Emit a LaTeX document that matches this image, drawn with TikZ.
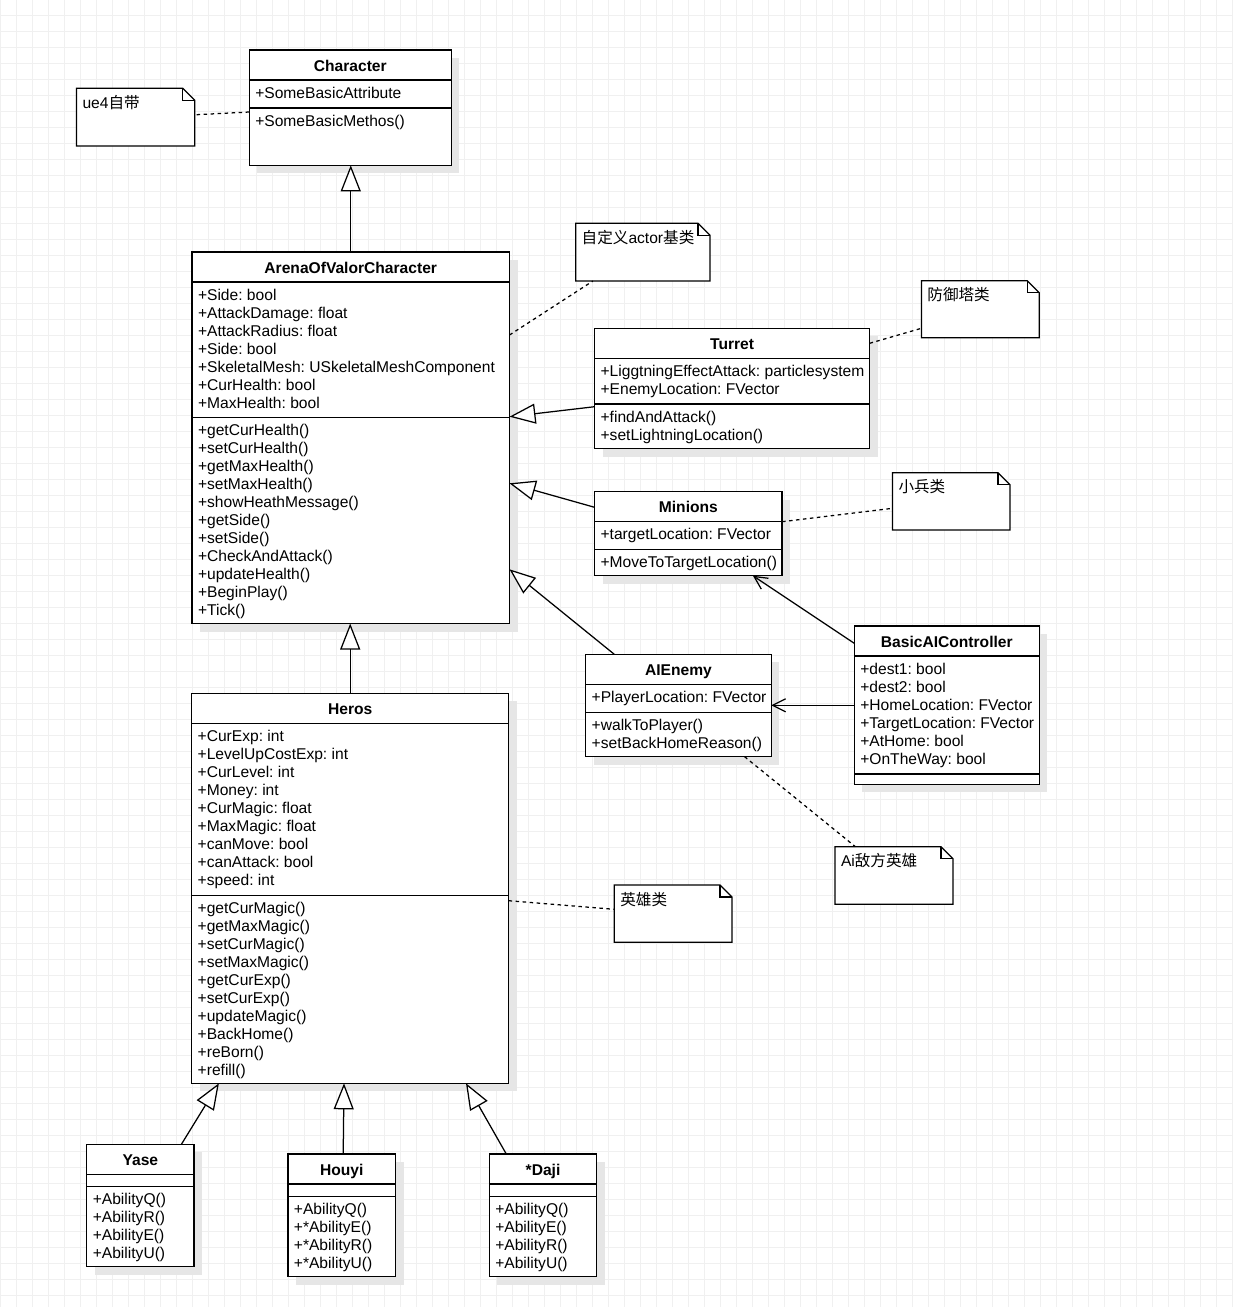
\documentclass[tikz,border=0pt]{standalone}
\usepackage{fontspec}
\setmainfont{Liberation Sans}
\newfontfamily\cjk{Noto Sans CJK SC}
\usetikzlibrary{arrows.meta,shadows}
\frenchspacing
\definecolor{gridc}{HTML}{F0F0F0}
\definecolor{shadc}{HTML}{E6E6E6}
\tikzset{
  cls/.style={draw, fill=white, line width=1.25pt, outer sep=0pt, inner sep=0pt,
    drop shadow={shadow xshift=8pt, shadow yshift=-8pt, fill=shadc, opacity=1}},
  clsline/.style={line width=1.25pt},
  ttl/.style={anchor=base, inner sep=0pt, outer sep=0pt, font=\fontsize{15.6}{18}\selectfont\bfseries},
  txt/.style={anchor=base west, inner sep=0pt, outer sep=0pt, font=\fontsize{15.6}{18}\selectfont\frenchspacing},
  notebase/.style={anchor=north west, inner sep=0pt, outer sep=0pt},
  noteline/.style={line width=1.25pt},
  gridl/.style={gridc, line width=1pt},
  inh/.style={line width=1.25pt, -{Triangle[length=26pt,width=20pt,fill=white,line width=1.25pt]}},
  assoc/.style={line width=1.25pt, -{Straight Barb[length=13pt,width=13pt,line width=1.25pt]}},
  notelink/.style={line width=1.25pt, dash pattern=on 3.5pt off 3.5pt},
}
\newcommand\umlclass[9]{%
  \node[cls, minimum width={(#4-#2)*1pt}, minimum height={(#5-#3)*1pt}, anchor=north west] (#1) at (#2,#3) {};
  \draw[clsline] (#2,{#3+30}) -- (#4,{#3+30});
  \draw[clsline] (#2,#6) -- (#4,#6);
  \node[ttl] (#1t) at ({(#2+#4)/2},{#3+21}) {#7};
  \if\relax\detokenize{#8}\relax\else
    \foreach \ltxt [count=\li] in {#8}{\node[txt] (#1a\li) at ({#2+6},{#3+30+18*\li}) {\ltxt};}%
  \fi
  \if\relax\detokenize{#9}\relax\else
    \foreach \ltxt [count=\li] in {#9}{\node[txt] (#1m\li) at ({#2+6},{#6+18*\li}) {\ltxt};}%
  \fi
}
\newcommand\umlnote[6]{%
  \node[notebase, minimum width={(#4-#2)*1pt}, minimum height={(#5-#3)*1pt}] (#1) at (#2,#3) {};
  \draw[noteline, fill=white] (#1.north west) -- ([xshift=-12pt]#1.north east) -- ([yshift=-12pt]#1.north east) -- (#1.south east) -- (#1.south west) -- cycle;
  \draw[noteline] ([xshift=-12pt]#1.north east) -- ([xshift=-12pt,yshift=-12pt]#1.north east) -- ([yshift=-12pt]#1.north east);
  \node[txt] (#1t) at ({#2+6},{#3+20}) {#6};
}
\begin{document}
\begin{tikzpicture}[x=1pt,y=-1pt]
\useasboundingbox (0,0) rectangle (1233,1307);
\fill[white] (0,0) rectangle (1233,1307);
\foreach \k in {0,...,77} \draw[gridl] ({16*\k+0.5},0) -- ({16*\k+0.5},1307);
\foreach \k in {1,...,82} \draw[gridl] (0,{16*\k-1}) -- (1233,{16*\k-1});

% classes
\umlclass{char}{249.3}{50}{451.3}{165.3}{108}{Character}{+SomeBasicAttribute}{+SomeBasicMethos()}
\umlclass{arena}{192}{252}{509.5}{623.5}{417.7}{ArenaOfValorCharacter}%
  {+Side: bool,+AttackDamage: float,+AttackRadius: float,+Side: bool,+SkeletalMesh: USkeletalMeshComponent,+CurHealth: bool,+MaxHealth: bool}%
  {+getCurHealth(),+setCurHealth(),+getMaxHealth(),+setMaxHealth(),+showHeathMessage(),+getSide(),+setSide(),+CheckAndAttack(),+updateHealth(),+BeginPlay(),+Tick()}
\umlclass{turret}{594.6}{328.3}{869.6}{448.7}{404}{Turret}%
  {+LiggtningEffectAttack: particlesystem,+EnemyLocation: FVector}%
  {+findAndAttack(),+setLightningLocation()}
\umlclass{minions}{594.6}{491.7}{782.1}{575.7}{549.3}{Minions}%
  {+targetLocation: FVector}{+MoveToTargetLocation()}
\umlclass{aienemy}{585.7}{654.3}{771.3}{756.7}{712.3}{AIEnemy}%
  {+PlayerLocation: FVector}{+walkToPlayer(),+setBackHomeReason()}
\umlclass{basicai}{854.3}{626}{1039.3}{784.3}{774}{BasicAIController}%
  {+dest1: bool,+dest2: bool,+HomeLocation: FVector,+TargetLocation: FVector,+AtHome: bool,+OnTheWay: bool}{}
\umlclass{heros}{191.7}{693.3}{508.7}{1083.3}{895.3}{Heros}%
  {+CurExp: int,+LevelUpCostExp: int,+CurLevel: int,+Money: int,+CurMagic: float,+MaxMagic: float,+canMove: bool,+canAttack: bool,+speed: int}%
  {+getCurMagic(),+getMaxMagic(),+setCurMagic(),+setMaxMagic(),+getCurExp(),+setCurExp(),+updateMagic(),+BackHome(),+reBorn(),+refill()}
\umlclass{yase}{86.8}{1144.3}{193.9}{1266.7}{1186.7}{Yase}{}%
  {+AbilityQ(),+AbilityR(),+AbilityE(),+AbilityU()}
\umlclass{houyi}{287.9}{1154}{395.7}{1276.7}{1196.4}{Houyi}{}%
  {+AbilityQ(),+*AbilityE(),+*AbilityR(),+*AbilityU()}
\umlclass{daji}{489.3}{1154}{596.8}{1276.7}{1196.4}{*Daji}{}%
  {+AbilityQ(),+AbilityE(),+AbilityR(),+AbilityU()}

% notes
\umlnote{ue4note}{76.5}{88.3}{194.7}{146}{ue4{\cjk 自带}}
\umlnote{actnote}{575.7}{223.3}{710}{281}{{\cjk 自定义}actor{\cjk 基类}}
\umlnote{towernote}{921.4}{280.7}{1039.3}{337.7}{\cjk 防御塔类}
\umlnote{soldiernote}{892.5}{472.7}{1010}{530}{\cjk 小兵类}
\umlnote{ainote}{835}{846.7}{952.9}{904.3}{Ai{\cjk 敌方英雄}}
\umlnote{heronote}{614.3}{885}{732}{942.3}{\cjk 英雄类}

% generalizations
\draw[inh] (arena.north) -- (arena.north |- char.south);
\draw[inh] (heros.north) -- (heros.north |- arena.south);
\draw[inh] (turret.west |- 0,406.7) -- (arena.east |- 0,416.7);
\draw[inh] (minions.west |- 0,507.3) -- (arena.east |- 0,483.3);
\draw[inh] ([xshift=28.6pt]aienemy.north west) -- (arena.east |- 0,569.3);
\draw[inh] ([xshift=94.6pt]yase.north west) -- ([xshift=27.2pt]heros.south west);
\draw[inh] ([xshift=55.3pt]houyi.north west) -- ([xshift=152.3pt]heros.south west);
\draw[inh] ([xshift=17pt]daji.north west) -- ([xshift=-42.7pt]heros.south east);

% associations
\draw[assoc] (basicai.west |- 0,643.3) -- ([xshift=-29.2pt]minions.south east);
\draw[assoc] (basicai.west |- 0,705.3) -- (aienemy.east |- 0,705.3);

% note links
\draw[notelink] ([xshift=2pt]ue4note.east |- 0,114.7) -- (char.west |- 0,112);
\draw[notelink] (arena.east |- 0,335) -- ([xshift=17.2pt]actnote.south west);
\draw[notelink] (turret.east |- 0,343.3) -- (towernote.west |- 0,328.3);
\draw[notelink] (minions.east |- 0,521.7) -- (soldiernote.west |- 0,508.3);
\draw[notelink] ([xshift=-26.7pt]aienemy.south east) -- ([xshift=20.4pt]ainote.north west);
\draw[notelink] (heros.east |- 0,900.7) -- (heronote.west |- 0,909.3);
\end{tikzpicture}
\end{document}
